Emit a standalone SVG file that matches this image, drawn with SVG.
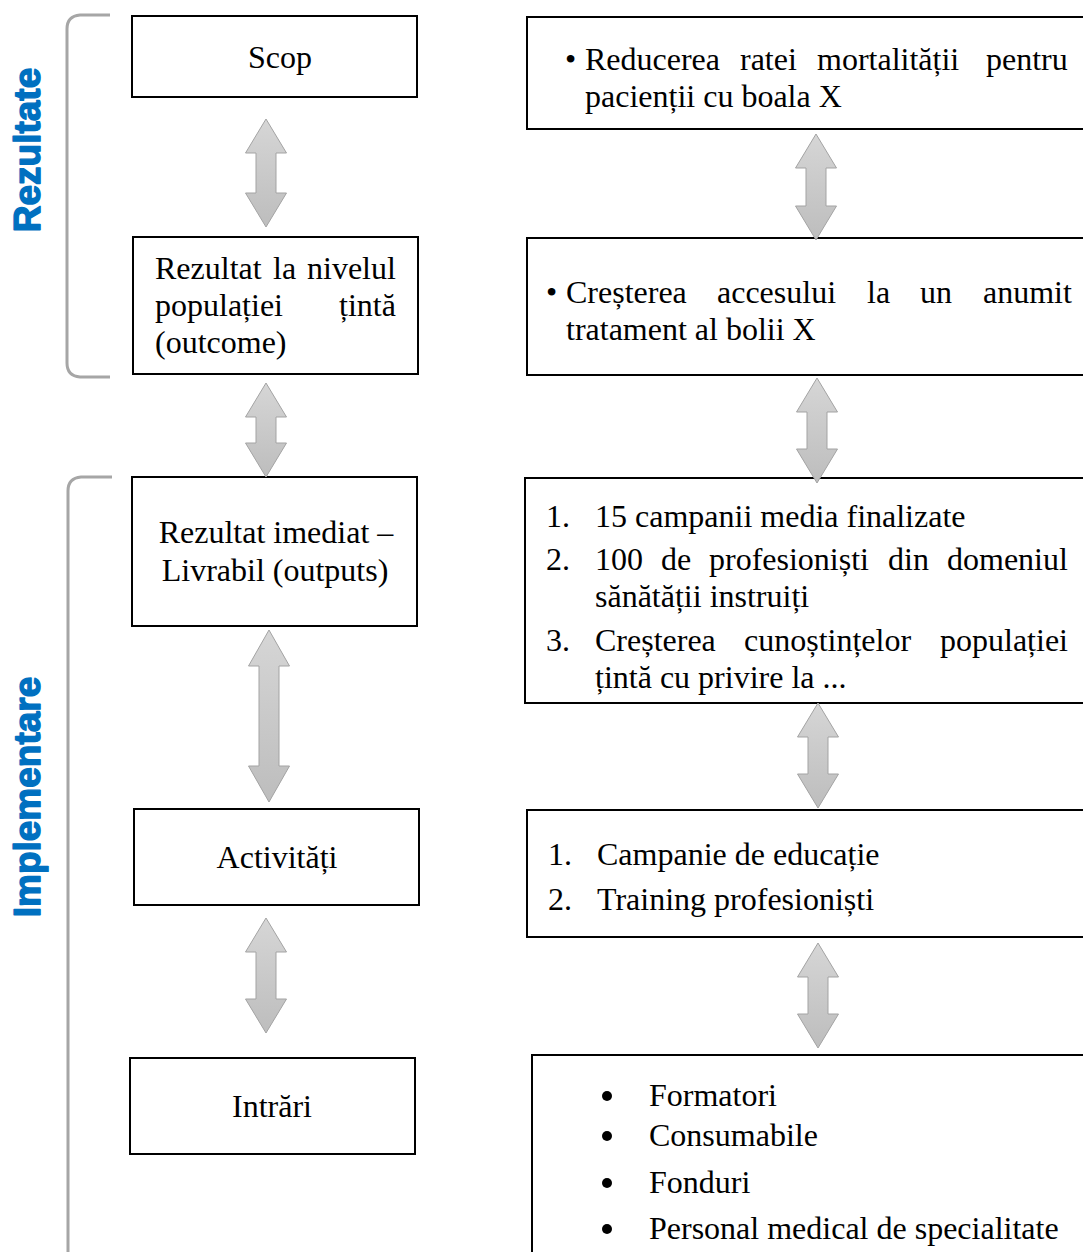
<svg xmlns="http://www.w3.org/2000/svg" width="1083" height="1252" viewBox="0 0 1083 1252">
  <defs>
    <linearGradient id="arrowFill" x1="0" y1="0" x2="0" y2="1">
      <stop offset="0" stop-color="#d6d6d6"/>
      <stop offset="1" stop-color="#bdbdbd"/>
    </linearGradient>
  </defs>
  <style>
    .box { fill: #ffffff; stroke: #000000; stroke-width: 2; }
    .t { font-family: "Liberation Serif", "Times New Roman", serif; font-size: 32px; fill: #000000; }
    .mid { text-anchor: middle; }
    .side { font-family: "Liberation Sans", Arial, sans-serif; font-size: 37px; font-weight: bold; fill: #0070c0; stroke: #0070c0; stroke-width: 1.4; stroke-linejoin: round; text-anchor: middle; }
    .bracket { fill: none; stroke: #a6a6a6; stroke-width: 3; }
    .arrow { fill: url(#arrowFill); stroke: #a3a3a3; stroke-width: 1; }
  </style>

  <rect width="1083" height="1252" fill="#ffffff"/>

  <!-- side brackets and labels -->
  <g id="group-rezultate">
    <path class="bracket" d="M110,15 L80,15 Q67,16 67,29 L67,363 Q67,376 80,377 L110,377"/>
    <text class="side" transform="translate(40,150) rotate(-90)">Rezultate</text>
  </g>
  <g id="group-implementare">
    <path class="bracket" d="M112,477 L81,477 Q68,478 68,491 L68,1262"/>
    <text class="side" transform="translate(40,797) rotate(-90)">Implementare</text>
  </g>

  <!-- left column -->
  <g id="scop">
    <rect class="box" x="132" y="16" width="285" height="81"/>
    <text class="t mid" x="280" y="68">Scop</text>
  </g>
  <g id="rezultat-populatie">
    <rect class="box" x="133" y="237" width="285" height="137"/>
    <text class="t" y="279"><tspan x="155">Rezultat</tspan><tspan x="273">la</tspan><tspan x="307">nivelul</tspan></text>
    <text class="t" y="316"><tspan x="155">populației</tspan><tspan x="339">țintă</tspan></text>
    <text class="t" x="155" y="353">(outcome)</text>
  </g>
  <g id="rezultat-imediat">
    <rect class="box" x="132" y="477" width="285" height="149"/>
    <text class="t mid" x="276" y="543">Rezultat imediat –</text>
    <text class="t mid" x="275" y="581">Livrabil (outputs)</text>
  </g>
  <g id="activitati">
    <rect class="box" x="134" y="809" width="285" height="96"/>
    <text class="t mid" x="277" y="868">Activități</text>
  </g>
  <g id="intrari">
    <rect class="box" x="130" y="1058" width="285" height="96"/>
    <text class="t mid" x="272" y="1117">Intrări</text>
  </g>

  <!-- right column -->
  <g id="scop-detalii">
    <rect class="box" x="527" y="17" width="580" height="112"/>
    <text class="t" y="70"><tspan x="565">•</tspan><tspan x="585">Reducerea</tspan><tspan x="740">ratei</tspan><tspan x="817">mortalității</tspan><tspan x="986">pentru</tspan></text>
    <text class="t" x="585" y="107">pacienții cu boala X</text>
  </g>
  <g id="rezultat-populatie-detalii">
    <rect class="box" x="527" y="238" width="580" height="137"/>
    <text class="t" y="303"><tspan x="546">•</tspan><tspan x="566">Creșterea</tspan><tspan x="717">accesului</tspan><tspan x="867">la</tspan><tspan x="920">un</tspan><tspan x="983">anumit</tspan></text>
    <text class="t" x="566" y="340">tratament al bolii X</text>
  </g>
  <g id="rezultat-imediat-detalii">
    <rect class="box" x="525" y="478" width="580" height="225"/>
    <text class="t" x="546" y="527">1.</text>
    <text class="t" x="595" y="527">15 campanii media finalizate</text>
    <text class="t" x="546" y="570">2.</text>
    <text class="t" y="570"><tspan x="595">100</tspan><tspan x="661">de</tspan><tspan x="709">profesioniști</tspan><tspan x="888">din</tspan><tspan x="947">domeniul</tspan></text>
    <text class="t" x="595" y="607">sănătății instruiți</text>
    <text class="t" x="546" y="651">3.</text>
    <text class="t" y="651"><tspan x="595">Creșterea</tspan><tspan x="744">cunoștințelor</tspan><tspan x="940">populației</tspan></text>
    <text class="t" x="595" y="688">țintă cu privire la ...</text>
  </g>
  <g id="activitati-detalii">
    <rect class="box" x="527" y="810" width="580" height="127"/>
    <text class="t" x="548" y="865">1.</text>
    <text class="t" x="597" y="865">Campanie de educație</text>
    <text class="t" x="548" y="910">2.</text>
    <text class="t" x="597" y="910">Training profesioniști</text>
  </g>
  <g id="intrari-detalii">
    <rect class="box" x="532" y="1055" width="580" height="230"/>
    <circle cx="607" cy="1096" r="5"/>
    <text class="t" x="649" y="1106">Formatori</text>
    <circle cx="607" cy="1136" r="5"/>
    <text class="t" x="649" y="1146">Consumabile</text>
    <circle cx="607" cy="1183" r="5"/>
    <text class="t" x="649" y="1193">Fonduri</text>
    <circle cx="607" cy="1229" r="5"/>
    <text class="t" x="649" y="1239">Personal medical de specialitate</text>
  </g>

  <!-- double-headed block arrows between levels -->
  <g id="connectors">
    <path class="arrow" d="M266,119 L286.5,153 L276,153 L276,193 L286.5,193 L266,227 L245.5,193 L256,193 L256,153 L245.5,153 Z"/>
    <path class="arrow" d="M266,383 L286.5,417 L276,417 L276,443 L286.5,443 L266,477 L245.5,443 L256,443 L256,417 L245.5,417 Z"/>
    <path class="arrow" d="M269,630 L289.5,666 L279,666 L279,766 L289.5,766 L269,802 L248.5,766 L259,766 L259,666 L248.5,666 Z"/>
    <path class="arrow" d="M266,918 L286.5,952 L276,952 L276,999 L286.5,999 L266,1033 L245.5,999 L256,999 L256,952 L245.5,952 Z"/>
    <path class="arrow" d="M816,134 L836.5,168 L826,168 L826,206 L836.5,206 L816,240 L795.5,206 L806,206 L806,168 L795.5,168 Z"/>
    <path class="arrow" d="M817,378 L837.5,412 L827,412 L827,449 L837.5,449 L817,483 L796.5,449 L807,449 L807,412 L796.5,412 Z"/>
    <path class="arrow" d="M818,703 L838.5,737 L828,737 L828,774 L838.5,774 L818,808 L797.5,774 L808,774 L808,737 L797.5,737 Z"/>
    <path class="arrow" d="M818,943 L838.5,977 L828,977 L828,1014 L838.5,1014 L818,1048 L797.5,1014 L808,1014 L808,977 L797.5,977 Z"/>
  </g>
</svg>
